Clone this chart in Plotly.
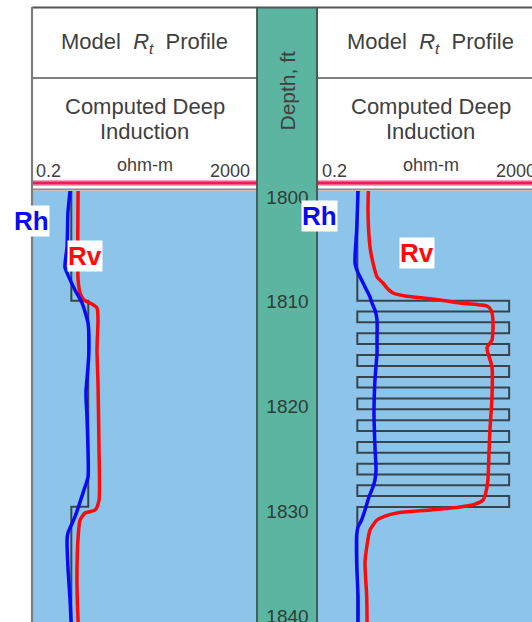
import math
import plotly.graph_objects as go

W, H = 532, 622

# ---------------- data ----------------
depth_ticks = [1800, 1810, 1820, 1830, 1840]
depth_top, depth_base = 1799.26, 1840.34
r_min, r_max = 0.2, 2000

# Left track: isotropic 2 ohm-m sand in 1 ohm-m shale
shale_r = 1.0
sand_r = 2.0
sand_top, sand_base = 1809.71, 1829.35

left_rh_depth = [1799.26, 1801.35, 1804.59, 1806.50, 1807.26, 1808.69, 1809.93, 1811.84,
                 1814.41, 1816.03, 1818.51, 1820.80, 1823.94, 1826.52, 1828.04, 1830.33,
                 1831.86, 1832.53, 1835.10, 1838.25, 1840.34]
left_rh = [0.95, 0.87, 0.84, 0.77, 0.87, 1.16, 1.55, 1.98,
           2.06, 1.98, 1.82, 1.90, 1.98, 1.98, 1.61, 1.16,
           0.87, 0.84, 0.87, 0.95, 0.99]

left_rv_depth = [1799.26, 1807.74, 1808.98, 1809.65, 1810.03, 1810.41, 1811.55, 1814.41,
                 1817.56, 1823.94, 1828.71, 1829.67, 1829.95, 1830.62, 1832.24, 1836.63,
                 1840.34]
left_rv = [1.32, 1.32, 1.43, 1.68, 2.33, 2.86, 2.98, 2.86,
           2.98, 3.11, 3.11, 2.64, 1.75, 1.43, 1.32, 1.26,
           1.32]

# Right track: thin 500 ohm-m laminae in 1 ohm-m shale
lam_r = 500.0
lam_top = [1809.71, 1811.77, 1813.84, 1815.94, 1818.00, 1820.06, 1822.14, 1824.21, 1826.27, 1828.34]
lam_base = [1810.75, 1812.81, 1814.88, 1816.98, 1819.04, 1821.10, 1823.18, 1825.25, 1827.31, 1829.38]

right_rh_depth = [1799.26, 1802.97, 1806.12, 1807.07, 1807.45, 1808.41, 1809.36, 1809.93,
                  1810.60, 1811.55, 1813.46, 1814.70, 1817.27, 1820.42, 1823.66, 1825.85,
                  1826.80, 1827.47, 1828.42, 1829.67, 1830.62, 1831.29, 1832.05, 1834.72,
                  1837.96, 1840.34]
right_rh = [1.03, 0.975, 0.91, 1.03, 1.12, 1.37, 1.68, 1.82,
            2.06, 2.24, 2.24, 2.24, 2.06, 1.98, 2.06, 2.15,
            2.06, 1.90, 1.61, 1.37, 1.19, 1.03, 0.975, 0.975,
            1.03, 1.03]

right_rv_depth = [1799.26, 1801.35, 1804.59, 1806.12, 1807.45, 1808.03, 1808.50, 1808.98,
                  1809.27, 1809.46, 1809.65, 1809.93, 1810.12, 1810.22, 1810.60, 1811.55,
                  1813.46, 1814.22, 1816.03, 1818.89, 1822.04, 1824.23, 1826.80, 1827.94,
                  1828.71, 1829.10, 1829.38, 1829.67, 1829.95, 1830.24, 1830.62, 1831.57,
                  1833.00, 1834.72, 1837.96, 1840.34]
right_rv = [1.57, 1.55, 1.68, 1.90, 2.24, 2.86, 3.37, 4.31,
            7.04, 14.7, 29.5, 66.9, 152, 202, 238, 258,
            248, 202, 248, 248, 228, 219, 210, 194,
            172, 124, 66.9, 19.6, 5.07, 3.11, 2.24, 1.68,
            1.49, 1.37, 1.47, 1.49]

# ---------------- styling ----------------
FONT = "Liberation Sans, Arial, sans-serif"
TXT = "#404040"
BLUE_BG = "#8cc4ea"
TEAL = "#5bb5a0"
RH_COL = "#0a0af5"
RV_COL = "#ff0a0a"
MODEL_COL = "#37444e"


def fx(px):
    return px / W


def fy(py):
    return 1 - py / H


track_top = 191
ydom = [0, fy(track_top)]
left_x = (32, 257)
depth_x = (257, 318)
right_x = (318, 532)
track_w = 225  # full width of a resistivity track in px
right_span = math.log10(r_max / r_min) * (right_x[1] - right_x[0]) / track_w

fig = go.Figure()

# model profiles as step outlines
lm_x = [shale_r, shale_r, sand_r, sand_r, shale_r, shale_r]
lm_y = [depth_top, sand_top, sand_top, sand_base, sand_base, depth_base]
fig.add_trace(go.Scatter(x=lm_x, y=lm_y, mode="lines", xaxis="x", yaxis="y",
                         line=dict(color=MODEL_COL, width=2)))

rm_x, rm_y = [shale_r], [depth_top]
for t, b in zip(lam_top, lam_base):
    rm_x += [shale_r, lam_r, lam_r, shale_r]
    rm_y += [t, t, b, b]
rm_x.append(shale_r)
rm_y.append(depth_base)
fig.add_trace(go.Scatter(x=rm_x, y=rm_y, mode="lines", xaxis="x3", yaxis="y3",
                         line=dict(color=MODEL_COL, width=2)))

# computed deep induction curves
for xa, ya, d, v, c in [("x", "y", left_rv_depth, left_rv, RV_COL),
                        ("x", "y", left_rh_depth, left_rh, RH_COL),
                        ("x3", "y3", right_rv_depth, right_rv, RV_COL),
                        ("x3", "y3", right_rh_depth, right_rh, RH_COL)]:
    fig.add_trace(go.Scatter(x=v, y=d, mode="lines", xaxis=xa, yaxis=ya,
                             line=dict(color=c, width=3.5, shape="spline", smoothing=0.6)))

# depth labels in the centre track
fig.add_trace(go.Scatter(x=[0.5] * len(depth_ticks), y=depth_ticks,
                         text=[str(t) for t in depth_ticks], mode="text",
                         xaxis="x2", yaxis="y2", cliponaxis=False,
                         textfont=dict(family=FONT, size=19, color="#2e3d38")))

hidden = dict(showgrid=False, zeroline=False, showticklabels=False, ticks="",
              showline=False)
yrange = [depth_base, depth_top]
fig.update_layout(
    width=W, height=H, margin=dict(l=0, r=0, t=0, b=0),
    paper_bgcolor="white", plot_bgcolor="rgba(0,0,0,0)", showlegend=False,
    xaxis=dict(domain=[fx(left_x[0]), fx(left_x[1])], type="log",
               range=[math.log10(r_min), math.log10(r_max)], **hidden),
    yaxis=dict(domain=ydom, range=yrange, **hidden),
    xaxis2=dict(domain=[fx(depth_x[0]), fx(depth_x[1])], range=[0, 1], anchor="y2", **hidden),
    yaxis2=dict(domain=ydom, range=yrange, anchor="x2", **hidden),
    xaxis3=dict(domain=[fx(right_x[0]), 1], type="log", anchor="y3",
                range=[math.log10(r_min), math.log10(r_min) + right_span], **hidden),
    yaxis3=dict(domain=ydom, range=yrange, anchor="x3", **hidden),
)

shapes = []


def rect(x0, y0, x1, y1, color, layer="below"):
    shapes.append(dict(type="rect", xref="paper", yref="paper", x0=fx(x0), x1=fx(x1),
                       y0=fy(y1), y1=fy(y0), fillcolor=color, line=dict(width=0),
                       layer=layer))


def hline(x0, x1, y, color, width, layer="above"):
    shapes.append(dict(type="line", xref="paper", yref="paper", x0=fx(x0), x1=fx(x1),
                       y0=fy(y), y1=fy(y), line=dict(color=color, width=width), layer=layer))


def vline(x, y0, y1, color, width, layer="above"):
    shapes.append(dict(type="line", xref="paper", yref="paper", x0=fx(x), x1=fx(x),
                       y0=fy(y0), y1=fy(y1), line=dict(color=color, width=width), layer=layer))


# track backgrounds
rect(left_x[0], track_top, left_x[1], H, BLUE_BG)
rect(right_x[0], track_top, 545, H, BLUE_BG)
rect(depth_x[0], 7, depth_x[1], H, TEAL)

# header frame and separators
for a, b in [(left_x[0], depth_x[0]), (depth_x[1], 545)]:
    hline(a, b, 78, "#555555", 1.6)
    hline(a, b, 183, "#f4a3bd", 6)
    hline(a, b, 183, "#e3205a", 3)
    hline(a, b, 189.5, "#8a8a8a", 2.2)
hline(left_x[0], 545, 7.5, "#555555", 1.8)
vline(left_x[0], 7, H, "#7d7d7d", 2.2)
vline(depth_x[0], 7, H, "#3f554e", 1.8)
vline(depth_x[1] - 1, 7, H, "#3f554e", 1.8)

annotations = []


def text(px, py, s, size, color=TXT, xanchor="center", bg=None, angle=0):
    annotations.append(dict(x=fx(px), y=fy(py), xref="paper", yref="paper", text=s,
                            showarrow=False, xanchor=xanchor, yanchor="middle",
                            textangle=angle, bgcolor=bg, borderpad=0,
                            font=dict(family=FONT, size=size, color=color)))


for x0, x1 in [left_x, (right_x[0], right_x[0] + track_w)]:
    cx = (x0 + x1) / 2
    text(cx, 43, "Model  <i>R</i><sub><i>t</i></sub>  Profile", 22)
    text(cx, 107, "Computed Deep", 22)
    text(cx, 131, "Induction", 22)
    text(cx, 165, "ohm-m", 18)
    text(x0 + 3, 171, "0.2", 18, xanchor="left")
    text(x1 - 6, 171, "2000", 18, xanchor="right")

text((depth_x[0] + depth_x[1]) / 2, 91, "Depth, ft", 21, angle=-90)

text(31, 221, "<b>Rh</b>", 26, color=RH_COL, bg="white")
text(85, 256, "<b>Rv</b>", 26, color=RV_COL, bg="white")
text(319, 216, "<b>Rh</b>", 26, color=RH_COL, bg="white")
text(417, 253, "<b>Rv</b>", 26, color=RV_COL, bg="white")

fig.update_layout(shapes=shapes, annotations=annotations)
fig.write_html("out.html")
